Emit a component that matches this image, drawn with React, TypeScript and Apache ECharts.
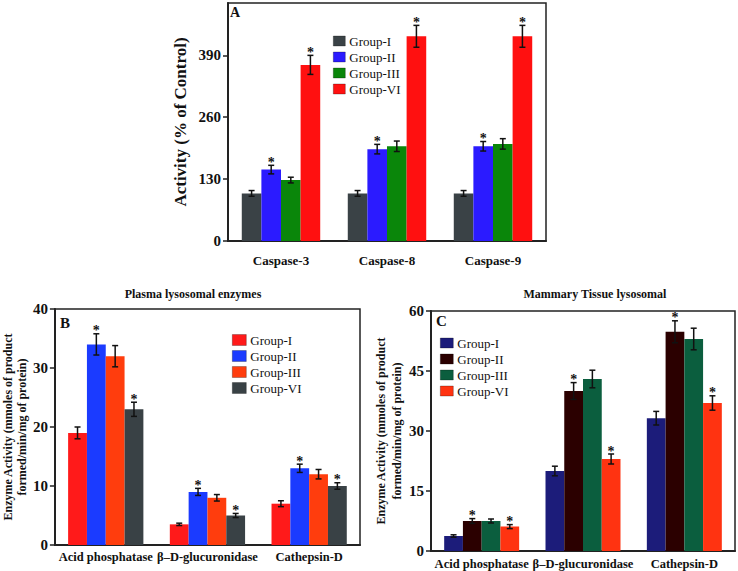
import React, { useEffect, useRef } from 'react';
import * as echarts from 'echarts';

const FONT = '"Liberation Serif", "Times New Roman", "DejaVu Serif", serif';

const groups = ['Group-I', 'Group-II', 'Group-III', 'Group-VI'];

// Panel A: caspases
const caspaseCats = ['Caspase-3', 'Caspase-8', 'Caspase-9'];
const caspaseG1 = [100, 100, 100];
const caspaseG2 = [150, 193, 199];
const caspaseG3 = [128, 199, 204];
const caspaseG4 = [370, 430, 430];
const caspaseErr1 = [6, 6, 6];
const caspaseErr2 = [9, 10, 10];
const caspaseErr3 = [6, 11, 11];
const caspaseErr4 = [20, 23, 23];
const caspaseStar = [false, true, false, true];
const caspaseTicks = [0, 130, 260, 390];

// Panel B: plasma lysosomal enzymes
const enzymeCats = ['Acid phosphatase', 'β–D-glucuronidase', 'Cathepsin-D'];
const plasmaG1 = [19, 3.5, 7];
const plasmaG2 = [34, 9, 13];
const plasmaG3 = [32, 8, 12];
const plasmaG4 = [23, 5, 10];
const plasmaErr1 = [1.0, 0.2, 0.5];
const plasmaErr2 = [1.8, 0.6, 0.7];
const plasmaErr3 = [1.8, 0.55, 0.8];
const plasmaErr4 = [1.2, 0.35, 0.55];
const plasmaStar = [false, true, false, true];

// Panel C: mammary tissue lysosomal enzymes
const tissueG1 = [3.75, 20, 33.2];
const tissueG2 = [7.5, 40, 54.8];
const tissueG3 = [7.5, 43, 53];
const tissueG4 = [6.1, 23, 37];
const tissueErr1 = [0.3, 1.2, 1.7];
const tissueErr2 = [0.6, 2.1, 2.75];
const tissueErr3 = [0.5, 2.2, 2.7];
const tissueErr4 = [0.5, 1.25, 1.8];
const tissueStar = [false, true, false, true];

const colorsA = ['#3a4246', '#2b1bff', '#0a860a', '#ff1010'];
const colorsB = ['#ff1a1a', '#1b3bff', '#ff3d0d', '#394145'];
const colorsC = ['#1c1c7a', '#2b0000', '#0b5e3e', '#ff3311'];

const GAP = 0.26;

function buildPanel(
  key: string,
  gridIndex: number,
  values: number[][],
  errs: number[][],
  stars: boolean[],
  colors: string[]
) {
  const series: any[] = [];
  values.forEach((vals, j) => {
    series.push({
      type: 'bar',
      name: key + ':' + groups[j],
      xAxisIndex: gridIndex,
      yAxisIndex: gridIndex,
      data: vals,
      barGap: '0%',
      barCategoryGap: GAP * 100 + '%',
      itemStyle: { color: colors[j] },
      z: 2,
    });
  });
  values.forEach((vals, j) => {
    series.push({
      type: 'custom',
      name: key + ':err' + j,
      xAxisIndex: gridIndex,
      yAxisIndex: gridIndex,
      z: 5,
      silent: true,
      dimensions: ['x', 'y', 'e'],
      encode: { x: 0, y: 1 },
      data: vals.map((v, i) => [i, v, errs[j][i]]),
      renderItem: (params: any, api: any) => {
        const ci = api.value(0);
        const v = api.value(1);
        const e = api.value(2);
        const c = api.coord([ci, v]);
        const band = api.size([1, 0])[0];
        const bw = (band * (1 - GAP)) / 4;
        const x = c[0] + (j - 1.5) * bw;
        const top = api.coord([ci, v + e])[1];
        const bot = api.coord([ci, v - e])[1];
        const cap = 3;
        const st = { stroke: '#111', lineWidth: 1.5 };
        const children: any[] = [
          { type: 'line', shape: { x1: x, y1: top, x2: x, y2: bot }, style: st },
          { type: 'line', shape: { x1: x - cap, y1: top, x2: x + cap, y2: top }, style: st },
          { type: 'line', shape: { x1: x - cap, y1: bot, x2: x + cap, y2: bot }, style: st },
        ];
        if (stars[j]) {
          children.push({
            type: 'text',
            x: x,
            y: top - 3,
            style: {
              text: '*',
              fill: '#111',
              font: 'bold 14px ' + FONT,
              align: 'center',
              verticalAlign: 'middle',
            },
          });
        }
        return { type: 'group', children };
      },
    });
  });
  return series;
}

export default function App() {
  const ref = useRef<HTMLDivElement>(null);

  useEffect(() => {
    if (!ref.current) return;
    const chart = echarts.init(ref.current, undefined, { renderer: 'svg' });

    const axisLineStyle = { color: '#222', width: 2 };
    const gridStyle = { show: true, borderColor: '#222', borderWidth: 1.5, backgroundColor: 'transparent' };

    const xAxisCommon = (gi: number, cats: string[], fontSize: number, margin: number) => ({
      type: 'category',
      gridIndex: gi,
      data: cats,
      axisLine: { lineStyle: axisLineStyle },
      axisTick: { show: false },
      axisLabel: { color: '#111', fontFamily: FONT, fontWeight: 'bold', fontSize, margin, interval: 0 },
      splitLine: { show: false },
    });

    const yAxisCommon = (
      gi: number,
      max: number,
      interval: number,
      fontSize: number,
      name: string,
      nameSize: number,
      nameGap: number,
      lineHeight: number
    ) => ({
      type: 'value',
      gridIndex: gi,
      min: 0,
      max,
      interval,
      name,
      nameLocation: 'middle',
      nameGap,
      nameTextStyle: {
        color: '#111',
        fontFamily: FONT,
        fontWeight: 'bold',
        fontSize: nameSize,
        lineHeight,
        align: 'center',
      },
      axisLine: { show: true, lineStyle: axisLineStyle },
      axisTick: { show: true, inside: false, length: 5, lineStyle: { color: '#222', width: 1.5 } },
      axisLabel: {
        color: '#111',
        fontFamily: FONT,
        fontWeight: 'bold',
        fontSize,
        margin: 7,
        showMaxLabel: max % interval === 0,
      },
      splitLine: { show: false },
    });

    const legendCommon = (key: string, left: number, top: number, w: number, h: number) => ({
      show: true,
      orient: 'vertical',
      left,
      top,
      itemWidth: w,
      itemHeight: h,
      itemGap: 2,
      icon: 'rect',
      padding: 0,
      data: groups.map((g) => key + ':' + g),
      formatter: (n: string) => n.split(':')[1],
      textStyle: { color: '#111', fontFamily: FONT, fontSize: 13, lineHeight: 14, padding: [0, 0, 0, -1] },
      itemStyle: { borderColor: 'rgba(0,0,0,0.45)', borderWidth: 0.6 },
      selectedMode: false,
    });

    const titleStyle = (size: number) => ({ color: '#111', fontFamily: FONT, fontWeight: 'bold', fontSize: size });

    const option: any = {
      animation: false,
      backgroundColor: '#fff',
      title: [
        { text: 'A', left: 230, top: 5, padding: 0, textStyle: titleStyle(14) },
        { text: 'B', left: 60, top: 315, padding: 0, textStyle: titleStyle(15) },
        { text: 'C', left: 436, top: 313, padding: 0, textStyle: titleStyle(15) },
        { text: 'Plasma lysosomal enzymes', left: 193, top: 288, padding: 0, textAlign: 'center', textStyle: titleStyle(12) },
        { text: 'Mammary Tissue lysosomal', left: 595, top: 288, padding: 0, textAlign: 'center', textStyle: titleStyle(12) },
      ],
      legend: [
        legendCommon('A', 333, 34, 12, 10),
        legendCommon('B', 232, 333, 14, 11),
        legendCommon('C', 440, 336, 13, 10),
      ],
      grid: [
        { left: 228, top: 3, width: 318, height: 238, ...gridStyle },
        { left: 52, top: 309, width: 308, height: 236, ...gridStyle },
        { left: 431, top: 311, width: 304, height: 240, ...gridStyle },
      ],
      xAxis: [
        xAxisCommon(0, caspaseCats, 13, 13),
        xAxisCommon(1, enzymeCats, 12.5, 5),
        xAxisCommon(2, enzymeCats, 12.5, 6),
      ],
      yAxis: [
        yAxisCommon(0, 500, 130, 15, 'Activity (% of Control)', 17, 38, 20),
        yAxisCommon(1, 40, 10, 15, 'Enzyme Activity (mmoles of product\nformed/min/mg of protein)', 12, 21, 14),
        yAxisCommon(2, 60, 15, 15, 'Enzyme Activity (mmoles of product\nformed/min/mg of protein)', 12, 26, 16),
      ],
      series: [
        ...buildPanel(
          'A',
          0,
          [caspaseG1, caspaseG2, caspaseG3, caspaseG4],
          [caspaseErr1, caspaseErr2, caspaseErr3, caspaseErr4],
          caspaseStar,
          colorsA
        ),
        ...buildPanel(
          'B',
          1,
          [plasmaG1, plasmaG2, plasmaG3, plasmaG4],
          [plasmaErr1, plasmaErr2, plasmaErr3, plasmaErr4],
          plasmaStar,
          colorsB
        ),
        ...buildPanel(
          'C',
          2,
          [tissueG1, tissueG2, tissueG3, tissueG4],
          [tissueErr1, tissueErr2, tissueErr3, tissueErr4],
          tissueStar,
          colorsC
        ),
      ],
    };
    // tick labels list kept for reference of panel A
    void caspaseTicks;

    chart.setOption(option);
    return () => chart.dispose();
  }, []);

  return (
    <div
      ref={ref}
      style={{ position: 'fixed', left: 0, top: 0, width: 738, height: 571, background: '#fff' }}
    />
  );
}
